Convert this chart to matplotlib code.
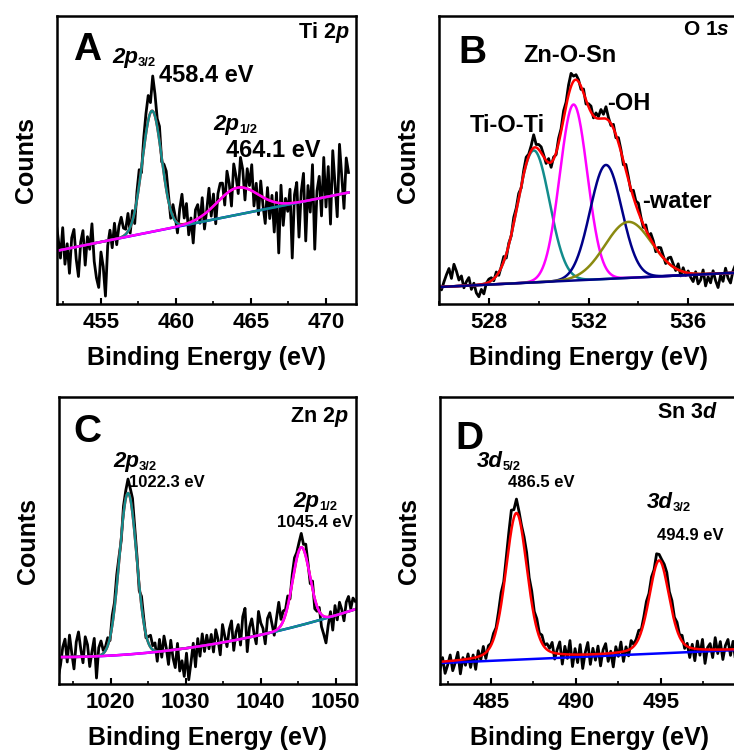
import matplotlib.pyplot as plt
import numpy as np
from matplotlib.ticker import MultipleLocator

plt.rcParams['font.family'] = 'Liberation Sans'
plt.rcParams['font.weight'] = 'bold'
plt.rcParams['axes.labelweight'] = 'bold'
plt.rcParams['mathtext.fontset'] = 'custom'
plt.rcParams['mathtext.rm'] = 'Liberation Sans:bold'
plt.rcParams['mathtext.it'] = 'Liberation Sans:italic:bold'
plt.rcParams['mathtext.bf'] = 'Liberation Sans:bold'

TEAL = '#128c8c'
MAGENTA = '#ff00ff'
NAVY = '#000088'
OLIVE = '#8a8a10'
RED = '#ff0000'
BLUE = '#0000ff'
RAW_LW = 2.0
FIT_LW = 1.8

# ---- A: Ti 2p ----
ti_range = (452.0, 471.5)
ti_bg = [3.0, 53.0]                 # linear background (slope, offset at start)
ti_centers = [458.4, 464.1]
ti_heights = [121, 27]
ti_fwhm = [1.5, 3.2]
ti_noise = [30, 12, -8, 22, -15, 5, -25, 10, 18, -12, -30, 4, 15, -20, 8,
            -5, 20, -18, -35, -45, -10, -25, -55, -5, 10, -8, 16, -6, 12, 20, 8,
            5, 18, -6, 10, -12, 8, 15, -5, 12, 20, 25, 10, 35, 22, 8,
            15, -4, 10, 18, 6, -8, 12, 4,
            -10, 15, 30, 6, 20, -12, 4, -22, 10, 14, -6, 18, -15, 2, 22,
            -8, 12, -20, 8, 16,
            14, -10, 22, 8, -16, 25, 12, -6, 30, 18, -12, 20, 4, 26, -14,
            10, -20, 15, -8, -25, 12, -18, 6, -30, 10, -50, 18, -22, 5, -8,
            14, -55, 8,
            20, -35, 10, 28, -40, 15, -12, 35, -50, 8, 22, -18, 40, -10, 30,
            -28, 45, 12, -22, 50, 18, -15, 35, 20]

# ---- B: O 1s ----
o_range = (526.0, 538.0)
o_bg = [1.2, 17.0]
o_names = ['Ti-O-Ti', 'Zn-O-Sn', '-OH', '-water']
o_centers = [529.8, 531.4, 532.7, 533.6]
o_heights = [132, 176, 114, 56]
o_fwhm = [1.5, 1.3, 1.5, 2.2]
o_noise = [2, -3, 5, 12, 18, 8, 22, 15, 6, 10, -2, 4, 8, -4, 2, -8, -12, -5, -10, 0, 3,
           3, -2, 4, -3, 1, 5, -4, 2, -1, 6,
           3, 5, -2, 4, 7, 2, 5, 13, 3, 5,
           6, 2, -3, 4, -5, 2, -2, 5, 3, 8,
           4, 10, 13, 5, 5, 2, -3, 4, -4, 3,
           6, -2, 5, 2, 9, 4, 12, 3, -2, 4,
           -3, 5, 2, -4, 6, 3, -2, 7, 4, 9,
           2, -3, 5, -2, 6, 3, -4, 4, 7, 2,
           -3, 5, 8, 3, -2, 6, -5, 4, -3, 2,
           -4, -8, 2, -10, -6, 4, -12, -3, -9, 3, -7, -14, -2, -8, 5, -5, -10, 2, 8, 12]

# ---- C: Zn 2p ----
zn_range = (1013.0, 1052.6)
zn_bg = [0.0306, 0.0, 27.0]          # quadratic background
zn_centers = [1022.3, 1045.4]
zn_heights = [162, 78]
zn_fwhm = [2.7, 2.7]
zn_noise = [-20, -8, 10, 18, -5, 22, 4, -12, 15, 25, 8, -6, 20, 12, -10, 5, 18, -22, 8, 14, 3,
            4, 8, -3, 10, 6, 12, 5, -4, 8, 8, 14, 10, 15, 8, 4, -6, 10, 5, -3, 6, 12, 4,
            8, -10, 12, -6, 15, 3, -14, 10, -8, -18, 6, -22, -12, -28, -5, -32, -15, 4,
            -20, 8, -10, 12, -6, 10, -4,
            10, -8, 14, 4, -12, 18, 6, -5, 12, 20, -10, 8, 15, -6, 22, 30, -14, 10, 18, 3,
            -8, 24, 12, 6, -10, 15, 20, 8, -4, 12, 26, 6, 10,
            5, 10, -4, 8, 12, 6, 8, 14, 5, 12, 3, -6, 8, -10, -5, 4, -12,
            -18, -26, -8, 5, -14, 10, -5, 12, 4, -8, 10, 15, 2, 12, 8]

# ---- D: Sn 3d ----
sn_range = (482.0, 500.0)
sn_bg = [0.75, 21.0]
sn_centers = [486.5, 494.9]
sn_heights = [147, 93]
sn_fwhm = [1.5, 1.4]
sn_noise = [-8, 4, -12, -4, 6, -10, -2, 8, -14, 2, -6, 5, -9, 3, -12, 6, -4, 8, -6, 4, 2,
            6, 3, 8, 12, 5, 10, 15, 20, 8, 14, 6, 4, 10, 14, 8, 12, 6, 10, 4, 8, 2, 6, 3,
            10, -6, 4, 12, -10, 8, -4, 14, -12, 6, -8, 10, -14, 2, 12, -10, 6, -6, 8, -12,
            4, 10, -8, 2, -14, 6, -4, 10, -10, 4, -6, 8, 2,
            4, 8, 2, 6, 10, 5, 8, 3, 10, 6, 4, 8, 12, 6, 10, 4, 8, 2, 6, -4, 3,
            -10, 4, -12, 8, -6, 10, -14, 2, 6, -8, 12, -4, 8, -10, 4, 10, -6, 8, -12, 6,
            2, 10, -4]


def pseudo_voigt(e, center, height, fwhm, eta=0.0):
    sigma = fwhm / 2.3548
    g = np.exp(-0.5 * ((e - center) / sigma) ** 2)
    l = 1.0 / (1.0 + ((e - center) / (fwhm / 2)) ** 2)
    return height * ((1 - eta) * g + eta * l)


def model(e, e0, bg, centers, heights, fwhms, eta=0.0):
    base = np.polyval(bg, e - e0)
    comps = [pseudo_voigt(e, c, h, w, eta) for c, h, w in zip(centers, heights, fwhms)]
    return base, comps


def measured(rng, bg, centers, heights, fwhms, noise, eta=0.0):
    e = np.linspace(rng[0], rng[1], len(noise))
    base, comps = model(e, rng[0], bg, centers, heights, fwhms, eta)
    return e, base + np.sum(comps, axis=0) + np.array(noise)


W, H = 734, 756
fig = plt.figure(figsize=(W / 100, H / 100), dpi=100)


def label(x, y, s, size, **kw):
    return fig.text(x / W, 1 - y / H, s, fontsize=size, va='baseline', **kw)


def orbital(ax, x, y, main, sub, size):
    t = label(x, y, main, size, style='italic')
    ax.annotate(sub, xy=(1.0, 0.1), xycoords=t, fontsize=size * 0.58,
                va='baseline', ha='left')


def style(ax, xlim, major, minor):
    ax.set_xlim(*xlim)
    ax.set_ylim(0, 288)
    ax.set_yticks([])
    ax.xaxis.set_major_locator(MultipleLocator(major))
    ax.xaxis.set_minor_locator(MultipleLocator(minor))
    ax.tick_params(axis='x', which='major', direction='in', length=4, width=1.5,
                   labelsize=16, pad=6)
    ax.tick_params(axis='x', which='minor', direction='in', length=2.5, width=1.2)
    for sp in ax.spines.values():
        sp.set_linewidth(1.8)
    ax.set_xlabel('Binding Energy (eV)', fontsize=18, labelpad=9)
    ax.set_ylabel('Counts', fontsize=18, labelpad=14)


ax_a = fig.add_axes([57 / W, 1 - 304 / H, 299 / W, 288 / H])
ax_b = fig.add_axes([439 / W, 1 - 304 / H, 299 / W, 288 / H])
ax_c = fig.add_axes([59 / W, 1 - 684 / H, 297 / W, 287 / H])
ax_d = fig.add_axes([440 / W, 1 - 684 / H, 299 / W, 287 / H])

# ---- A ----
e, raw = measured(ti_range, ti_bg, ti_centers, ti_heights, ti_fwhm, ti_noise)
ax_a.plot(e, raw, color='black', lw=RAW_LW)
ef = np.linspace(*ti_range, 800)
base, comps = model(ef, ti_range[0], ti_bg, ti_centers, ti_heights, ti_fwhm)
ax_a.plot(ef, base, color=BLUE, lw=FIT_LW)
ax_a.plot(ef, base + np.sum(comps, axis=0), color=RED, lw=FIT_LW)
ax_a.plot(ef, base + comps[0], color=TEAL, lw=FIT_LW)
ax_a.plot(ef, base + comps[1], color=MAGENTA, lw=FIT_LW)
style(ax_a, (452.07, 472.0), 5, 2.5)

# ---- B ----
e, raw = measured(o_range, o_bg, o_centers, o_heights, o_fwhm, o_noise)
ax_b.plot(e, raw, color='black', lw=RAW_LW)
ef = np.linspace(*o_range, 800)
base, comps = model(ef, o_range[0], o_bg, o_centers, o_heights, o_fwhm)
for comp, col in zip(comps, [TEAL, MAGENTA, NAVY, OLIVE]):
    ax_b.plot(ef, base + comp, color=col, lw=FIT_LW)
ax_b.plot(ef, base + np.sum(comps, axis=0), color=RED, lw=FIT_LW)
ax_b.plot(ef, base, color=NAVY, lw=FIT_LW)
style(ax_b, (526.0, 538.0), 4, 2)

# ---- C ----
e, raw = measured(zn_range, zn_bg, zn_centers, zn_heights, zn_fwhm, zn_noise)
ax_c.plot(e, raw, color='black', lw=RAW_LW)
ef = np.linspace(*zn_range, 800)
base, comps = model(ef, zn_range[0], zn_bg, zn_centers, zn_heights, zn_fwhm)
ax_c.plot(ef, base, color=BLUE, lw=FIT_LW)
ax_c.plot(ef, base + np.sum(comps, axis=0), color=RED, lw=FIT_LW)
ax_c.plot(ef, base + comps[0], color=TEAL, lw=FIT_LW)
ax_c.plot(ef, base + comps[1], color=MAGENTA, lw=FIT_LW)
style(ax_c, (1013.1, 1052.7), 10, 5)

# ---- D ----
e, raw = measured(sn_range, sn_bg, sn_centers, sn_heights, sn_fwhm, sn_noise, eta=0.3)
ax_d.plot(e, raw, color='black', lw=RAW_LW)
ef = np.linspace(*sn_range, 800)
base, comps = model(ef, sn_range[0], sn_bg, sn_centers, sn_heights, sn_fwhm, eta=0.3)
ax_d.plot(ef, base, color=BLUE, lw=FIT_LW)
ax_d.plot(ef, base + np.sum(comps, axis=0), color=RED, lw=FIT_LW)
style(ax_d, (482.0, 499.6), 5, 2.5)

# ---- annotations ----
label(73, 60, 'A', 28)
label(349, 38, r'Ti $\mathit{2p}$', 15.5, ha='right')
orbital(ax_a, 112, 63, '2p', '3/2', 16)
label(159, 82, f'{ti_centers[0]:.1f} eV', 17)
orbital(ax_a, 213, 130, '2p', '1/2', 16)
label(226, 157, f'{ti_centers[1]:.1f} eV', 17)

label(458, 63, 'B', 28)
label(730, 35, r'O $\mathit{1s}$', 15, ha='right')
for name, (x, y) in zip(o_names, [(470, 132), (523, 62), (607, 110), (642, 208)]):
    label(x, y, name, 17)

label(73, 442, 'C', 28)
label(349, 422, r'Zn $\mathit{2p}$', 15.5, ha='right')
orbital(ax_c, 113, 467, '2p', '3/2', 16)
label(129, 487, f'{zn_centers[0]:.1f} eV', 12)
orbital(ax_c, 293, 507, '2p', '1/2', 16)
label(277, 527, f'{zn_centers[1]:.1f} eV', 12)

label(455, 449, 'D', 28)
label(657, 418, r'Sn $\mathit{3d}$', 15.5)
orbital(ax_d, 477, 467, '3d', '5/2', 16)
label(508, 487, f'{sn_centers[0]:.1f} eV', 12)
orbital(ax_d, 647, 508, '3d', '3/2', 16)
label(657, 540, f'{sn_centers[1]:.1f} eV', 12)

fig.savefig('out.png', dpi=100)
